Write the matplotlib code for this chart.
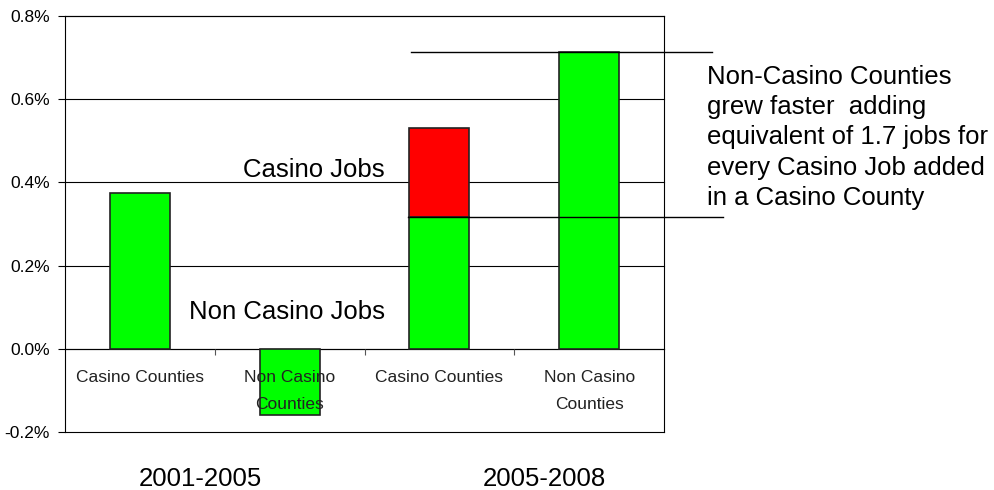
import numpy as np
import matplotlib.pyplot as plt
from matplotlib.ticker import FuncFormatter, FixedLocator

plt.rcParams['font.family'] = ['Liberation Sans', 'DejaVu Sans']

categories = ['Casino Counties', 'Non Casino\nCounties', 'Casino Counties', 'Non Casino\nCounties']
non_casino_jobs = [0.375, -0.16, 0.317, 0.714]
casino_jobs = [0.0, 0.0, 0.213, 0.0]
periods = ['2001-2005', '2005-2008']
note = ('Non-Casino Counties\ngrew faster  adding\nequivalent of 1.7 jobs for\n'
        'every Casino Job added\nin a Casino County')

green = '#00ff00'
red = '#ff0000'

fig = plt.figure(figsize=(9.94, 4.9), dpi=100)
ax = fig.add_axes([65 / 994, 58 / 490, 599 / 994, 416 / 490])

x = np.arange(len(categories))
ax.bar(x, non_casino_jobs, width=0.4, color=green, edgecolor='#222222', linewidth=1.2, zorder=3)
ax.bar(x[2], casino_jobs[2], bottom=non_casino_jobs[2], width=0.4, color=red,
       edgecolor='#222222', linewidth=1.2, zorder=3)

ax.set_xlim(-0.5, 3.5)
ax.set_ylim(-0.2, 0.8)
ax.set_yticks(np.arange(-0.2, 0.81, 0.2))
ax.yaxis.set_major_formatter(FuncFormatter(lambda v, p: f'{v:.1f}%'))
ax.yaxis.grid(True, color='black', linewidth=0.8, zorder=1)
for gl in ax.get_ygridlines():
    gl.set_clip_on(False)
ax.tick_params(axis='y', direction='out', length=5, width=0.8, labelsize=12.5, pad=6)

# category axis crosses at zero, labels drawn over the bars
ax.spines['bottom'].set_position(('data', 0))
ax.spines['bottom'].set_linewidth(0.8)
for s in ['left', 'right', 'top']:
    ax.spines[s].set_linewidth(0.8)
ax.set_xticks(x)
ax.set_xticklabels(categories)
ax.xaxis.set_minor_locator(FixedLocator([0.5, 1.5, 2.5]))
ax.tick_params(axis='x', which='major', length=0, labelsize=12.5, pad=15, labelcolor='#222222')
ax.tick_params(axis='x', which='minor', direction='out', length=4, width=0.8, color='#555555')
for lbl in ax.get_xticklabels():
    lbl.set_linespacing(2.0)
ax.xaxis.set_zorder(5)

# leader lines
ax.plot([1.813, 3.82], [non_casino_jobs[3]] * 2, color='black', lw=1, clip_on=False, zorder=4)
ax.plot([1.793, 3.893], [non_casino_jobs[2]] * 2, color='black', lw=1, clip_on=False, zorder=4)

ax.text(0.687, 0.413, 'Casino Jobs', fontsize=18.5, va='baseline', ha='left')
ax.text(0.327, 0.072, 'Non Casino Jobs', fontsize=18.5, va='baseline', ha='left')
ax.text(3.787, 0.346, note, fontsize=18.5, va='baseline', ha='left',
        linespacing=1.33, clip_on=False)

for xp, label in zip([0.407, 2.7], periods):
    ax.text(xp, -0.329, label, fontsize=18.5, ha='center', va='baseline', clip_on=False)

fig.savefig('out.png', dpi=100)
